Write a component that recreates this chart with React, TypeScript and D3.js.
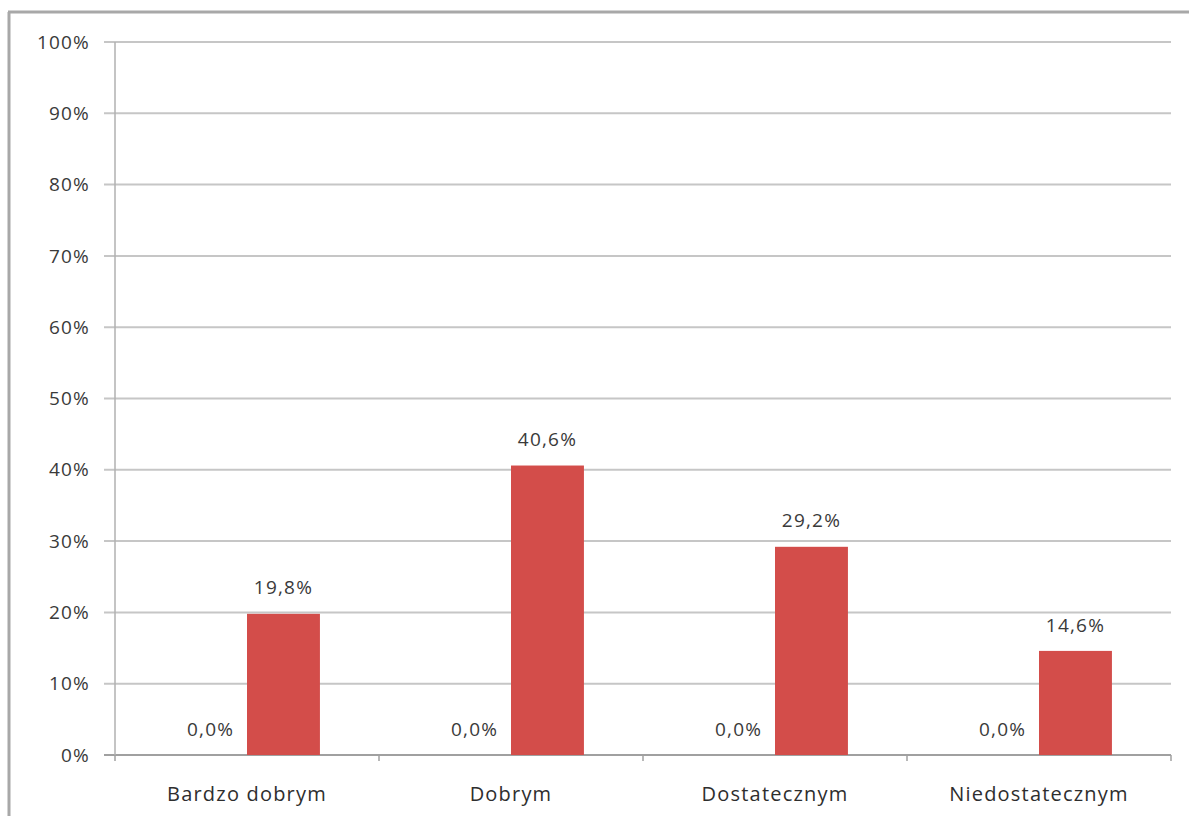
import React from "react";
import * as d3 from "d3";

// Ocena (grade) categories and the two series per category
const categories = ["Bardzo dobrym", "Dobrym", "Dostatecznym", "Niedostatecznym"];
const seriesNames = ["Seria 1", "Seria 2"];
const series1 = [0.0, 0.0, 0.0, 0.0];
const series2 = [19.8, 40.6, 29.2, 14.6];
const yTicks = [0, 10, 20, 30, 40, 50, 60, 70, 80, 90, 100];

const W = 1189;
const H = 816;
const plot = { left: 115, right: 1171, top: 42, bottom: 755 };
const FONT = "'Open Sans', Lato, sans-serif";

const fmt = (v: number) => v.toFixed(1).replace(".", ",") + "%";

export default function App() {
  const y = d3.scaleLinear().domain([0, 100]).range([plot.bottom, plot.top]);
  const x0 = d3.scaleBand<string>().domain(categories).range([plot.left, plot.right]).paddingInner(0).paddingOuter(0);
  const x1 = d3.scaleBand<string>().domain(seriesNames).range([0, x0.bandwidth()]).paddingInner(0).paddingOuter(0.81);
  const seriesData = [series1, series2];
  const colors = ["none", "#d34d4a"];

  const boundaries = [...categories.map((c) => x0(c) as number), plot.right];

  return (
    <svg width={W} height={H} style={{ position: "absolute", left: 0, top: 0, background: "#fff" }}>
      {/* outer frame */}
      <line x1={8} x2={W} y1={12} y2={12} stroke="#a8a8a8" strokeWidth={3} />
      <line x1={9} x2={9} y1={12} y2={H} stroke="#a8a8a8" strokeWidth={3} />

      {/* horizontal gridlines and y tick labels */}
      {yTicks.map((t) => (
        <g key={t}>
          <line x1={104} x2={plot.right} y1={y(t)} y2={y(t)} stroke={t === 0 ? "#a0a0a0" : "#c6c6c6"} strokeWidth={2} />
          <text x={90} y={y(t)} dy="0.35em" textAnchor="end" fontFamily={FONT} fontSize={19} letterSpacing={1.2} fill="#3a3a3a">
            {t}%
          </text>
        </g>
      ))}

      {/* y axis line */}
      <line x1={plot.left} x2={plot.left} y1={plot.top} y2={plot.bottom} stroke="#b0b0b0" strokeWidth={1.5} />

      {/* category boundary ticks */}
      {boundaries.map((b, i) => (
        <line key={i} x1={b} x2={b} y1={plot.bottom} y2={plot.bottom + 6} stroke="#a0a0a0" strokeWidth={1.5} />
      ))}

      {/* bars and value labels */}
      {categories.map((c, ci) => (
        <g key={c} transform={`translate(${x0(c)},0)`}>
          {seriesData.map((s, si) => {
            const bx = x1(seriesNames[si]) as number;
            const bw = x1.bandwidth();
            const v = s[ci];
            return (
              <g key={si}>
                {colors[si] !== "none" && (
                  <rect x={bx} y={y(v)} width={bw} height={y(0) - y(v)} fill={colors[si]} />
                )}
                <text
                  x={bx + bw / 2}
                  y={y(v) - 26}
                  dy="0.35em"
                  textAnchor="middle"
                  fontFamily={FONT}
                  fontSize={19}
                  letterSpacing={1.2}
                  fill="#3a3a3a"
                >
                  {fmt(v)}
                </text>
              </g>
            );
          })}
          <text
            x={x0.bandwidth() / 2}
            y={794}
            dy="0.35em"
            textAnchor="middle"
            fontFamily={FONT}
            fontSize={20}
            letterSpacing={1.2}
            fill="#2e2e2e"
          >
            {c}
          </text>
        </g>
      ))}
    </svg>
  );
}
